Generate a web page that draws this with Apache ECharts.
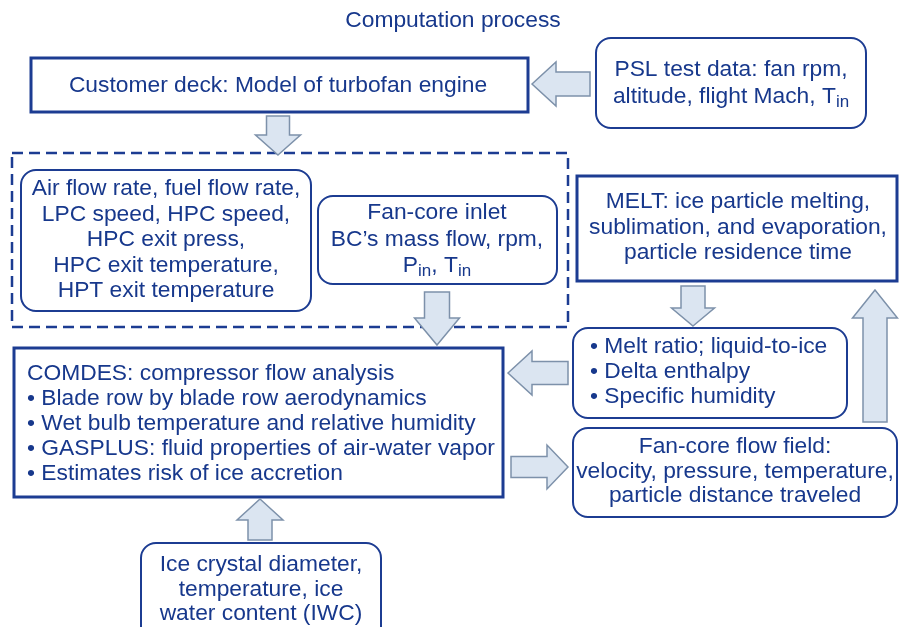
<!DOCTYPE html>
<html>
<head>
<meta charset="utf-8">
<script src="https://cdn.jsdelivr.net/npm/echarts@6/dist/echarts.min.js"></script>
<style>
  html, body { margin: 0; padding: 0; background: #fff; }
  #chart { width: 899px; height: 627px; }
</style>
</head>
<body>
<div id="chart"></div>
<script>
// texts of the flow chart
const titleText = 'Computation process';
const deckLines = ['Customer deck: Model of turbofan engine'];
const pslLines = ['PSL test data: fan rpm,', 'altitude, flight Mach, T{sub|in}'];
const engineLines = ['Air flow rate, fuel flow rate,', 'LPC speed, HPC speed,', 'HPC exit press,', 'HPC exit temperature,', 'HPT exit temperature'];
const inletLines = ['Fan-core inlet', 'BC\u2019s mass flow, rpm,', 'P{sub|in}, T{sub|in}'];
const meltLines = ['MELT: ice particle melting,', 'sublimation, and evaporation,', 'particle residence time'];
const meltOutLines = ['\u2022 Melt ratio; liquid-to-ice', '\u2022 Delta enthalpy', '\u2022 Specific humidity'];
const comdesLines = ['COMDES: compressor flow analysis', '\u2022 Blade row by blade row aerodynamics', '\u2022 Wet bulb temperature and relative humidity', '\u2022 GASPLUS: fluid properties of air-water vapor', '\u2022 Estimates risk of ice accretion'];
const flowLines = ['Fan-core flow field:', 'velocity, pressure, temperature,', 'particle distance traveled'];
const iceLines = ['Ice crystal diameter,', 'temperature, ice', 'water content (IWC)'];

const TEXT = '#17388c';
const LINE = '#1c3c92';
const ARROW_FILL = '#dbe5f1';
const ARROW_LINE = '#7d91aa';
const FONT = 'Liberation Sans, Arial, sans-serif';
const SIZE = 22.8;

const chart = echarts.init(document.getElementById('chart'));
const elements = [];

function box(x, y, w, h, r, lw, dashed) {
  elements.push({
    type: 'rect',
    shape: {x: x, y: y, width: w, height: h, r: r},
    style: {fill: 'none', stroke: LINE, lineWidth: lw, lineDash: dashed ? [11, 6] : null},
    z: 2
  });
}

function lines(list, x, y0, step, align) {
  list.forEach((t, i) => {
    elements.push({
      type: 'text',
      x: x,
      y: y0 + i * step,
      style: {
        text: t,
        fill: TEXT,
        fontSize: SIZE,
        fontFamily: FONT,
        align: align || 'center',
        verticalAlign: 'middle',
        rich: {
          sub: {fontSize: 17, fontFamily: FONT, fill: TEXT, verticalAlign: 'bottom', padding: [11, 0, 0, 0]}
        }
      },
      z: 3
    });
  });
}

// block arrow: tip point, direction, tail coordinate, widths
function arrow(tx, ty, dir, tail, headW, shaftW, headL) {
  const pts = [];
  const hw = headW / 2, sw = shaftW / 2;
  if (dir === 'left' || dir === 'right') {
    const s = dir === 'left' ? 1 : -1;
    const hx = tx + s * headL;
    pts.push([tx, ty], [hx, ty - hw], [hx, ty - sw], [tail, ty - sw], [tail, ty + sw], [hx, ty + sw], [hx, ty + hw]);
  } else {
    const s = dir === 'up' ? 1 : -1;
    const hy = ty + s * headL;
    pts.push([tx, ty], [tx + hw, hy], [tx + sw, hy], [tx + sw, tail], [tx - sw, tail], [tx - sw, hy], [tx - hw, hy]);
  }
  elements.push({
    type: 'polygon',
    shape: {points: pts},
    style: {fill: ARROW_FILL, stroke: ARROW_LINE, lineWidth: 1.5},
    z: 4
  });
}

// title
lines([titleText], 453, 21, 0);

// customer deck
box(31, 58, 497, 54, 0, 3);
lines(deckLines, 278, 86, 0);

// PSL test data
box(596, 38, 270, 90, 15, 2);
lines(pslLines, 731, 70, 27);

// dashed group
box(12, 153, 556, 174, 0, 2.5, true);
box(21, 170, 290, 141, 15, 2);
lines(engineLines, 166, 189, 25.5);
box(318, 196, 239, 88, 15, 2);
lines(inletLines, 437, 213, 26.5);

// MELT
box(577, 176, 320, 105, 0, 3);
lines(meltLines, 738, 202, 25.5);

// melt output
box(573, 328, 274, 90, 15, 2);
lines(meltOutLines, 590, 347, 25, 'left');

// COMDES
box(14, 348, 489, 149, 0, 3);
lines(comdesLines, 27, 374, 25, 'left');

// fan-core flow field
box(573, 428, 324, 89, 15, 2);
lines(flowLines, 735, 447, 24.5);

// ice crystal
box(141, 543, 240, 100, 15, 2);
lines(iceLines, 261, 565, 24.5);

// arrows
arrow(532, 84, 'left', 590, 44, 24, 24);
arrow(278, 155, 'down', 116, 45, 23, 20);
arrow(437, 345, 'down', 292, 45, 25, 27);
arrow(693, 326, 'down', 286, 43, 24, 18);
arrow(875, 290, 'up', 422, 45, 24, 28);
arrow(508, 373, 'left', 568, 44, 23, 24);
arrow(568, 467, 'right', 511, 44, 21, 21);
arrow(260, 499, 'up', 540, 46, 24, 21);

chart.setOption({
  backgroundColor: '#fff',
  graphic: {elements: elements}
});

window.addEventListener('resize', () => {
  chart.resize();
});
</script>
</body>
</html>
